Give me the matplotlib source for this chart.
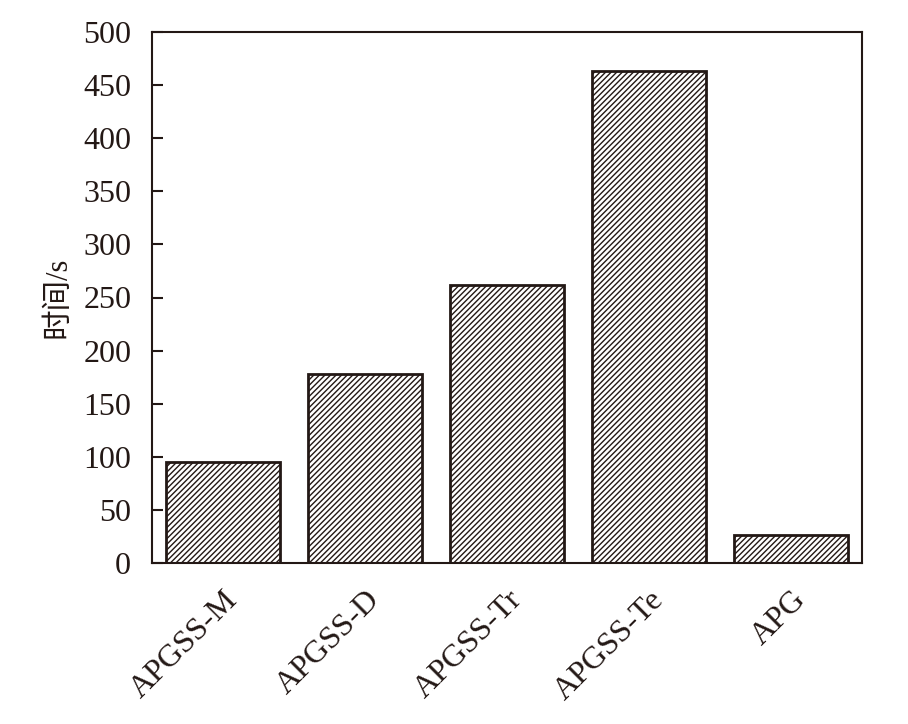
import matplotlib
matplotlib.use('Agg')
import matplotlib.pyplot as plt

plt.rcParams['font.family'] = ['Liberation Serif', 'Noto Sans CJK SC']
plt.rcParams['hatch.linewidth'] = 1.0
plt.rcParams['hatch.color'] = '#231815'

# data
methods = ['APGSS-M', 'APGSS-D', 'APGSS-Tr', 'APGSS-Te', 'APG']
times = [95, 178, 262, 463, 26]

fig = plt.figure(figsize=(9.08, 7.24), dpi=100)
ax = fig.add_axes([152/908, 1-563/724, 710/908, 531/724])

ax.bar(range(len(methods)), times, width=0.8, color='white',
       edgecolor='#231815', linewidth=2, hatch='//////')

ax.set_xlim(-0.5, 4.5)
ax.set_ylim(0, 500)
ax.set_yticks(range(0, 501, 50))
ax.set_xticks(range(len(methods)))
ax.set_xticklabels(methods, rotation=45, ha='right', rotation_mode='anchor')
ax.tick_params(axis='y', direction='in', length=8, width=1.5, labelsize=23,
               pad=15, colors='#231815')
ax.tick_params(axis='x', length=0, labelsize=23, pad=16, colors='#231815')
for s in ax.spines.values():
    s.set_linewidth(1.5)
    s.set_color('#231815')
ax.set_ylabel('时间/s', fontsize=22, color='#231815', labelpad=8)

fig.savefig('out.png', dpi=100)
